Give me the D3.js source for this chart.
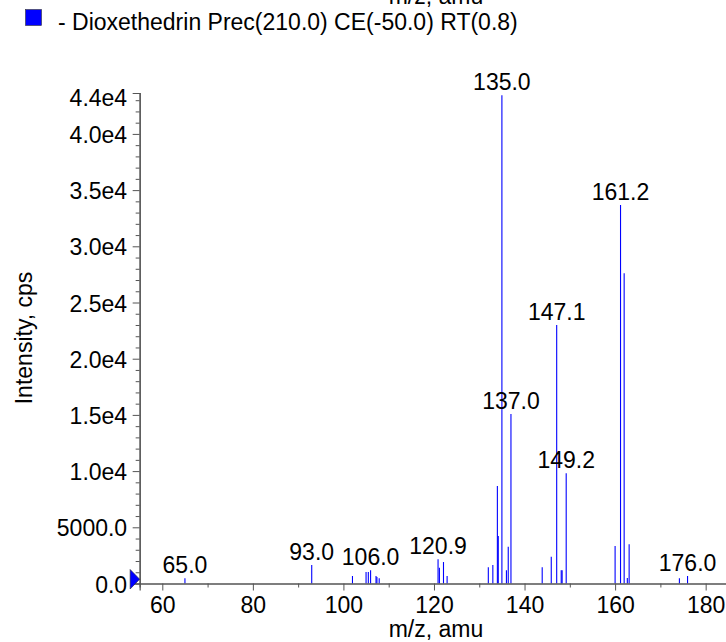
<!DOCTYPE html>
<html>
<head>
<meta charset="utf-8">
<script src="https://cdn.jsdelivr.net/npm/d3@7"></script>
<style>
  html, body { margin: 0; padding: 0; background: #fff; }
  svg { display: block; }
  text { font-family: "Liberation Sans", Arial, Helvetica, sans-serif; fill: #000; }
</style>
</head>
<body>
<svg id="chart" width="726" height="642"></svg>
<script>
// ---- data ----
const peakMz = [65.0, 93.0, 102.0, 105.0, 105.5, 106.0, 107.2, 107.4, 107.9,
  120.9, 121.2, 122.1, 122.9, 132.0, 133.0, 134.0, 134.2, 135.0, 136.0, 136.4, 137.0,
  143.9, 145.9, 147.1, 148.1, 148.3, 149.2, 160.0, 161.2, 162.0, 162.7, 163.1, 174.2, 176.0];
const peakIntensity = [460, 1650, 670, 1020, 1020, 1170, 670, 580, 460,
  2150, 1400, 1910, 670, 1440, 1650, 8670, 4230, 43450, 1170, 3260, 15080,
  1440, 2380, 23000, 1170, 1170, 9800, 3340, 33670, 27600, 500, 3500, 460, 670];
const labeledMz = [65.0, 93.0, 106.0, 120.9, 135.0, 137.0, 147.1, 149.2, 161.2, 176.0];

const xDomain = [55, 185];
const yDomain = [0, 43640];
const xMajorTicks = [60, 80, 100, 120, 140, 160, 180];
const xMinorTicks = [70, 90, 110, 130, 150, 170];
const yMajorTicks = [0, 5000, 10000, 15000, 20000, 25000, 30000, 35000, 40000];
const yTickLabels = ["0.0", "5000.0", "1.0e4", "1.5e4", "2.0e4", "2.5e4", "3.0e4", "3.5e4", "4.0e4"];
const yMinorTicks = d3.range(1000, 44000, 1000).filter(v => v % 5000 !== 0);
const yMaxLabel = "4.4e4";

const xTitle = "m/z, amu";
const yTitle = "Intensity, cps";
const legendText = "- Dioxethedrin Prec(210.0) CE(-50.0) RT(0.8)";

// ---- drawing ----
const svg = d3.select("#chart");
const FS = 23;
const axisColor = "#555";
const blue = "#0000ff";

const x = d3.scaleLinear().domain(xDomain).range([139.66, 728.3]);
const y = d3.scaleLinear().domain(yDomain).range([583.5, 93]);

// top (cut-off) title
svg.append("text").attr("x", 436).attr("y", 4).attr("text-anchor", "middle")
  .attr("font-size", FS).text(xTitle);

// legend
svg.append("rect").attr("x", 25.5).attr("y", 9.5).attr("width", 16).attr("height", 16)
  .attr("fill", blue).attr("stroke", "#333").attr("stroke-width", 0.6);
svg.append("text").attr("x", 58).attr("y", 29.5).attr("font-size", FS).text(legendText);

// peaks
const peaks = peakMz.map((m, i) => ({ mz: m, v: peakIntensity[i] }));
svg.append("g").selectAll("line").data(peaks).join("line")
  .attr("x1", d => x(d.mz)).attr("x2", d => x(d.mz))
  .attr("y1", y(0)).attr("y2", d => y(d.v))
  .attr("stroke", blue).attr("stroke-width", 1.1);

// peak labels
const labeled = peaks.filter(p => labeledMz.includes(p.mz));
svg.append("g").selectAll("text").data(labeled).join("text")
  .attr("x", d => x(d.mz)).attr("y", d => y(d.v) - 5)
  .attr("text-anchor", "middle").attr("font-size", FS)
  .text(d => d.mz.toFixed(1));

// y axis
const yAxisG = svg.append("g").attr("transform", `translate(${x(xDomain[0])},0)`);
yAxisG.call(d3.axisLeft(y).tickValues(yMinorTicks).tickSize(4).tickFormat(""));
yAxisG.append("g").call(d3.axisLeft(y).tickValues(yMajorTicks).tickSize(7).tickPadding(5.5)
  .tickFormat((d, i) => yTickLabels[i]));
yAxisG.selectAll("path.domain").attr("stroke", axisColor).attr("stroke-width", 1.2);
yAxisG.selectAll(".tick line").attr("stroke", axisColor);
yAxisG.selectAll(".tick text").attr("font-size", FS).attr("font-family", null)
  .attr("fill", "#000").attr("dy", "0.37em");
yAxisG.append("text").attr("x", -12.5).attr("y", y(yDomain[1]) + 13)
  .attr("text-anchor", "end").attr("font-size", FS).text(yMaxLabel);

// x axis
const xAxisG = svg.append("g").attr("transform", `translate(0,${y(0)})`);
xAxisG.call(d3.axisBottom(x).tickValues(xMinorTicks).tickSize(4).tickFormat(""));
xAxisG.append("g").call(d3.axisBottom(x).tickValues(xMajorTicks).tickSize(7).tickPadding(6.5)
  .tickFormat(d3.format("d")));
xAxisG.selectAll("path.domain").attr("stroke", axisColor).attr("stroke-width", 1.2);
xAxisG.selectAll(".tick line").attr("stroke", axisColor);
xAxisG.selectAll(".tick text").attr("font-size", FS).attr("font-family", null).attr("fill", "#000");

// origin marker
const ox = x(xDomain[0]), oy = y(0);
svg.append("path")
  .attr("d", d3.line()([[ox - 9.5, oy - 14], [ox - 9.5, oy + 5.5], [ox, oy - 4.3]]) + "Z")
  .attr("fill", blue).attr("stroke", "#223").attr("stroke-width", 0.6);

// axis titles
svg.append("text").attr("x", 436).attr("y", 637).attr("text-anchor", "middle")
  .attr("font-size", FS).text(xTitle);
svg.append("text").attr("transform", `translate(31.5,338) rotate(-90)`)
  .attr("text-anchor", "middle").attr("font-size", FS).text(yTitle);
</script>
</body>
</html>
